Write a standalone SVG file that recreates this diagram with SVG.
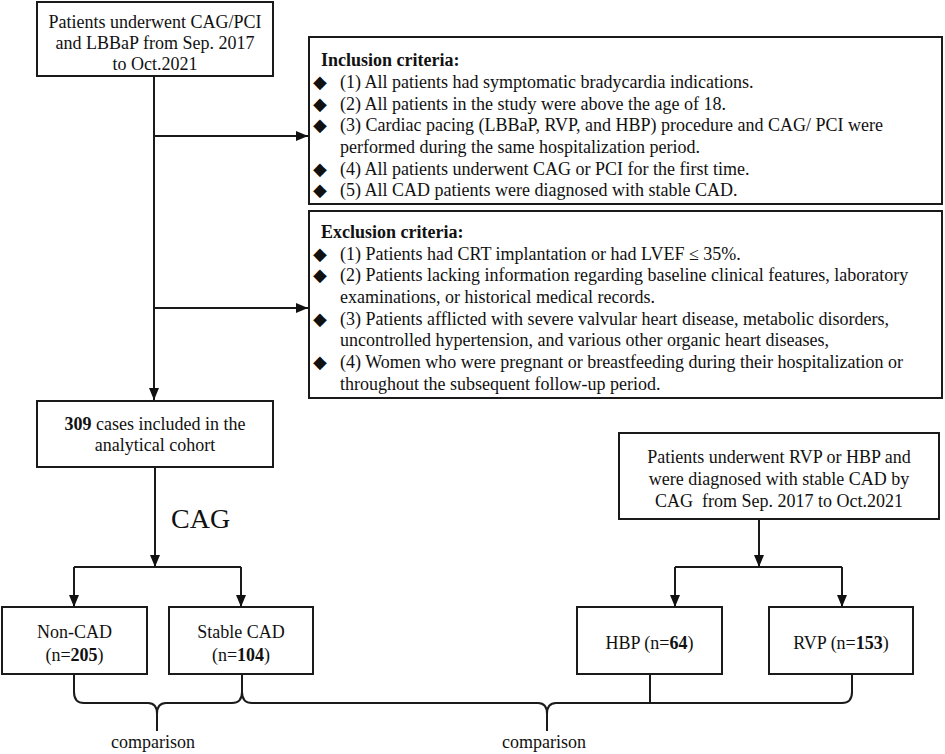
<svg xmlns="http://www.w3.org/2000/svg" width="945" height="754" viewBox="0 0 945 754">
<defs>
<marker id="ah" viewBox="0 0 12 10" refX="12" refY="5" markerWidth="12" markerHeight="10" markerUnits="userSpaceOnUse" orient="auto"><path d="M0,0 L12,5 L0,10 z" fill="#111"/></marker>
</defs>
<style>
.box{fill:#fff;stroke:#1a1a1a;stroke-width:2}
.t{font-family:"Liberation Serif","Times New Roman",serif;font-size:18px;fill:#111}
.c{text-anchor:middle}
.b{font-weight:bold}
.ln{fill:none;stroke:#1a1a1a;stroke-width:2}
.ar{fill:none;stroke:#1a1a1a;stroke-width:2;marker-end:url(#ah)}
.dm{font-family:"DejaVu Sans",sans-serif;font-size:18px;fill:#111}
</style>
<rect width="945" height="754" fill="#fff"/>
<g id="connectors">
<path class="ar" d="M154,76 V400"/>
<path class="ar" d="M154,136 H308"/>
<path class="ar" d="M154,308 H308"/>
<path class="ar" d="M155,467 V567"/>
<path class="ln" d="M74,567 H241"/>
<path class="ar" d="M74,567 V607"/>
<path class="ar" d="M241,567 V607"/>
<path class="ar" d="M759,519 V567"/>
<path class="ln" d="M675,567 H842"/>
<path class="ar" d="M675,567 V607"/>
<path class="ar" d="M842,567 V607"/>
<path class="ln" d="M74,674 V692 Q74,703 84,703 H148 Q157,703 157,714 V731 M157,714 Q157,703 166,703 H232 Q242,703 242,692 V674"/>
<path class="ln" d="M242,692 Q242,703 252,703 H538 Q547,703 547,714 V731 M547,714 Q547,703 556,703 H842 Q852,703 852,692 V674"/>
<path class="ln" d="M650,674 V703"/>
</g>
<g id="n-start">
<rect class="box" x="37" y="2" width="236" height="74"/>
<text class="t c" x="155" y="28">Patients underwent CAG/PCI</text>
<text class="t c" x="155" y="49">and LBBaP from Sep. 2017</text>
<text class="t c" x="155" y="70">to Oct.2021</text>
</g>
<g id="n-inclusion">
<rect class="box" x="309" y="37" width="633" height="167"/>
<text class="t b" x="321" y="66">Inclusion criteria:</text>
<text class="dm" x="313" y="88">◆</text><text class="t" x="340" y="88">(1) All patients had symptomatic bradycardia indications.</text>
<text class="dm" x="313" y="110">◆</text><text class="t" x="340" y="110">(2) All patients in the study were above the age of 18.</text>
<text class="dm" x="313" y="131">◆</text><text class="t" x="340" y="131">(3) Cardiac pacing (LBBaP, RVP, and HBP) procedure and CAG/ PCI were</text>
<text class="t" x="340" y="153">performed during the same hospitalization period.</text>
<text class="dm" x="313" y="175">◆</text><text class="t" x="340" y="175">(4) All patients underwent CAG or PCI for the first time.</text>
<text class="dm" x="313" y="196">◆</text><text class="t" x="340" y="196">(5) All CAD patients were diagnosed with stable CAD.</text>
</g>
<g id="n-exclusion">
<rect class="box" x="309" y="211" width="633" height="187"/>
<text class="t b" x="321" y="238">Exclusion criteria:</text>
<text class="dm" x="313" y="260">◆</text><text class="t" x="340" y="260">(1) Patients had CRT implantation or had LVEF ≤ 35%.</text>
<text class="dm" x="313" y="281">◆</text><text class="t" x="340" y="281">(2) Patients lacking information regarding baseline clinical features, laboratory</text>
<text class="t" x="340" y="303">examinations, or historical medical records.</text>
<text class="dm" x="313" y="325">◆</text><text class="t" x="340" y="325">(3) Patients afflicted with severe valvular heart disease, metabolic disorders,</text>
<text class="t" x="340" y="346">uncontrolled hypertension, and various other organic heart diseases,</text>
<text class="dm" x="313" y="368">◆</text><text class="t" x="340" y="368">(4) Women who were pregnant or breastfeeding during their hospitalization or</text>
<text class="t" x="340" y="390">throughout the subsequent follow-up period.</text>
</g>
<g id="n-cohort">
<rect class="box" x="37" y="401" width="236" height="66"/>
<text class="t c" x="155" y="430"><tspan class="b">309</tspan> cases included in the</text>
<text class="t c" x="155" y="451">analytical cohort</text>
</g>
<g id="l-cag">
<text class="t" x="171" y="528" style="font-size:28px">CAG</text>
</g>
<g id="n-rvphbp">
<rect class="box" x="619" y="433" width="320" height="86"/>
<text class="t c" x="779" y="463">Patients underwent RVP or HBP and</text>
<text class="t c" x="779" y="485">were diagnosed with stable CAD by</text>
<text class="t c" x="779" y="507" xml:space="preserve">CAG  from Sep. 2017 to Oct.2021</text>
</g>
<g id="n-noncad">
<rect class="box" x="2" y="607" width="145" height="67"/>
<text class="t c" x="74.5" y="638">Non-CAD</text>
<text class="t c" x="74.5" y="661">(n=<tspan class="b">205</tspan>)</text>
</g>
<g id="n-stablecad">
<rect class="box" x="169" y="607" width="144" height="67"/>
<text class="t c" x="241" y="638">Stable CAD</text>
<text class="t c" x="241" y="661">(n=<tspan class="b">104</tspan>)</text>
</g>
<g id="n-hbp">
<rect class="box" x="577" y="607" width="145" height="67"/>
<text class="t c" x="649.5" y="649">HBP (n=<tspan class="b">64</tspan>)</text>
</g>
<g id="n-rvp">
<rect class="box" x="769" y="607" width="144" height="67"/>
<text class="t c" x="841" y="649">RVP (n=<tspan class="b">153</tspan>)</text>
</g>
<g id="l-comparison">
<text class="t c" x="153" y="748">comparison</text>
<text class="t c" x="544" y="748">comparison</text>
</g>
</svg>
